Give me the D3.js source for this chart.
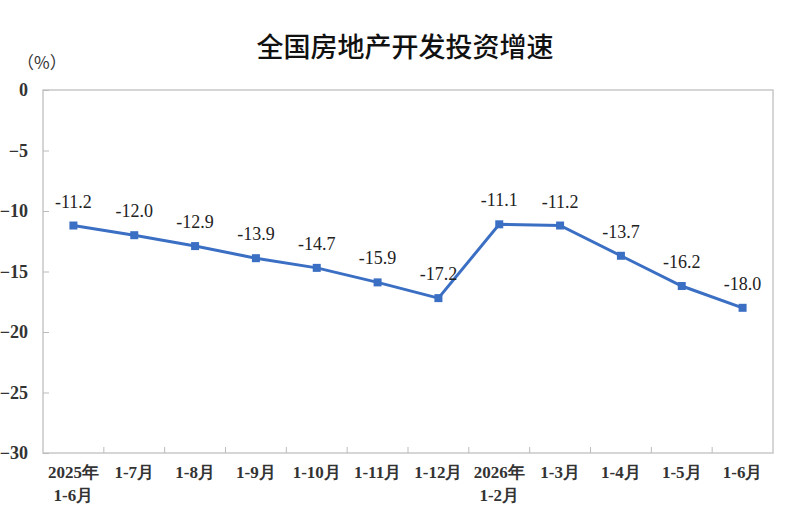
<!DOCTYPE html>
<html>
<head>
<meta charset="utf-8">
<script src="https://cdn.jsdelivr.net/npm/d3@7"></script>
<style>
	body { margin: 0; background: #fff; }
	svg text { font-family: "Liberation Serif", "Times New Roman", serif; }
</style>
</head>
<body>
<svg id="chart"></svg>
<script>
const periods = ['2025年|1-6月', '1-7月', '1-8月', '1-9月', '1-10月', '1-11月', '1-12月', '2026年|1-2月', '1-3月', '1-4月', '1-5月', '1-6月'];
const growth = [-11.2, -12.0, -12.9, -13.9, -14.7, -15.9, -17.2, -11.1, -11.2, -13.7, -16.2, -18.0];
const yTicks = [0, -5, -10, -15, -20, -25, -30];

const W = 785, H = 512;
const margin = { top: 90, right: 12, bottom: 59, left: 43 };
const lineColor = '#3b6fc3';
const textColor = '#333';

const svg = d3.select('#chart').attr('width', W).attr('height', H);

const x = d3.scaleBand()
	.domain(periods).range([margin.left, W - margin.right]);
const y = d3.scaleLinear()
	.domain([0, -30]).range([margin.top, H - margin.bottom]);

// title
svg.append('text')
	.attr('x', 405).attr('y', 57)
	.attr('text-anchor', 'middle')
	.style('font-family', '"Noto Sans CJK SC", sans-serif')
	.style('font-size', '27px')
	.style('font-weight', 500)
	.attr('fill', '#111')
	.text('全国房地产开发投资增速');

svg.append('text')
	.attr('x', 17).attr('y', 69)
	.style('font-family', '"Noto Sans CJK SC", sans-serif')
	.style('font-size', '17px')
	.attr('fill', textColor)
	.text('（%）');

// plot frame
svg.append('rect')
	.attr('x', margin.left).attr('y', margin.top)
	.attr('width', W - margin.right - margin.left)
	.attr('height', y(-30) - y(0))
	.attr('fill', 'none')
	.attr('stroke', '#c8c8c8')
	.attr('stroke-width', 1.5);

// y axis
const yAxis = svg.append('g')
	.attr('transform', `translate(${margin.left},0)`)
	.call(d3.axisLeft(y).tickValues(yTicks).tickSize(-6).tickPadding(15));
yAxis.select('.domain').remove();
yAxis.selectAll('line').attr('stroke', '#bbb');
yAxis.selectAll('text')
	.style('font-size', '18px')
	.style('font-weight', 'bold')
	.attr('fill', textColor);

// x axis ticks between categories
const bounds = periods.slice(1).map(p => x(p));
svg.append('g').selectAll('line').data(bounds).join('line')
	.attr('x1', d => d).attr('x2', d => d)
	.attr('y1', y(-30)).attr('y2', y(-30) - 6)
	.attr('stroke', '#bbb');

const xLabels = svg.append('g').selectAll('text').data(periods).join('text')
	.attr('x', d => x(d) + x.bandwidth() / 2)
	.attr('y', y(-30) + 25)
	.attr('text-anchor', 'middle')
	.style('font-size', '17px')
	.style('font-weight', 'bold')
	.attr('fill', textColor);
xLabels.each(function(d) {
	const parts = d.split('|');
	parts.forEach((p, i) => {
		d3.select(this).append('tspan')
			.attr('x', x(d) + x.bandwidth() / 2)
			.attr('dy', i === 0 ? 0 : 23)
			.text(p);
	});
});

// series
const cx = (d, i) => x(periods[i]) + x.bandwidth() / 2;
const line = d3.line().x(cx).y(d => y(d));

svg.append('path').datum(growth)
	.attr('d', line)
	.attr('fill', 'none')
	.attr('stroke', lineColor)
	.attr('stroke-width', 3);

svg.append('g').selectAll('rect').data(growth).join('rect')
	.attr('x', (d, i) => cx(d, i) - 4)
	.attr('y', d => y(d) - 4)
	.attr('width', 8).attr('height', 8)
	.attr('fill', lineColor);

svg.append('g').selectAll('text').data(growth).join('text')
	.attr('x', cx)
	.attr('y', d => y(d) - 18)
	.attr('text-anchor', 'middle')
	.style('font-size', '18px')
	.attr('fill', '#222')
	.text(d => d.toFixed(1));
</script>
</body>
</html>
